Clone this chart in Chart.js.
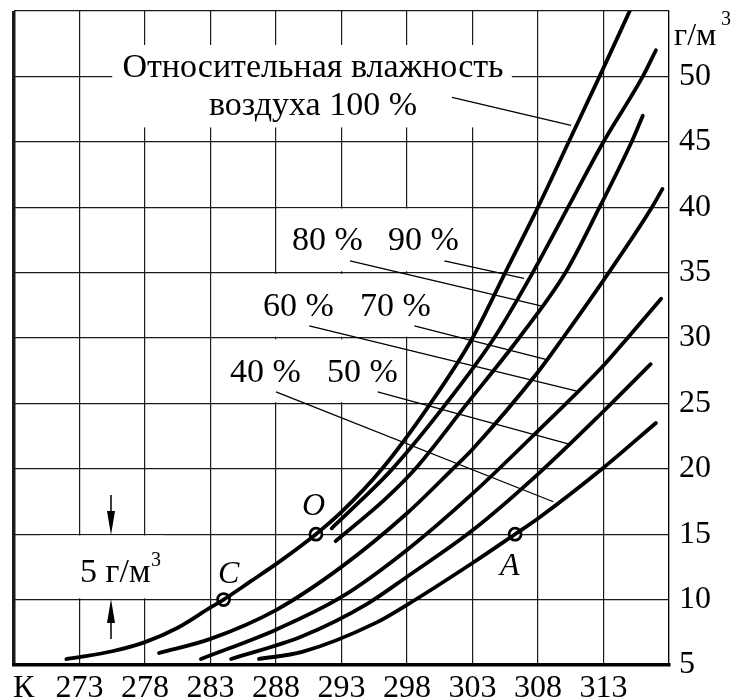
<!DOCTYPE html>
<html>
<head>
<meta charset="utf-8">
<script src="https://cdn.jsdelivr.net/npm/chart.js@4.4.1/dist/chart.umd.min.js"></script>
<style>
  html, body { margin: 0; padding: 0; background: #fff; }
  #wrap { width: 737px; height: 700px; }
</style>
</head>
<body>
<div id="wrap"><canvas id="humidityChart" width="737" height="700"></canvas></div>
<script>
// Axis ticks (temperature in K, absolute humidity in g/m3)
const xTicks = [268, 273, 278, 283, 288, 293, 298, 303, 308, 313, 318];
const yTicks = [5, 10, 15, 20, 25, 30, 35, 40, 45, 50, 55];

// Curves: temperature / humidity pairs
const rh100T = [272, 273, 275.5, 278, 280.5, 283, 284, 286, 288.4, 291.05, 293, 296.1, 299.8, 303, 305.5, 308, 310.35, 312.7, 315];
const rh100V = [5.45, 5.6, 6.05, 6.75, 7.85, 9.4, 10, 11.35, 13, 15, 16.7, 20, 25, 30, 35, 40, 45, 50, 55];

const rh90T = [292.25, 294.5, 296.8, 301, 304.65, 307.6, 310.3, 313, 316, 317];
const rh90V = [15.45, 17.6, 19.9, 25, 30, 35, 40, 45, 50, 52];

const rh80T = [292.55, 296.25, 298.55, 302.6, 306.55, 310.1, 312.7, 315.15, 316];
const rh80V = [14.47, 17.6, 19.9, 25, 30, 35, 40, 45, 47];

const rh70T = [279.07, 283, 288, 293, 298, 301.4, 303, 308, 309.9, 313.4, 316.7, 317.5];
const rh70V = [5.92, 7.0, 9.2, 12.5, 16.6, 19.9, 21.5, 27.4, 30, 35, 40, 41.4];

const rh60T = [282.27, 288, 293, 298, 303, 308, 313, 315, 317.4];
const rh60V = [5.46, 7.7, 10.2, 13.8, 18.1, 22.9, 27.9, 30.2, 33];

const rh50T = [284.57, 290, 295, 298, 303, 308, 313, 316.6];
const rh50V = [5.46, 7.2, 9.7, 11.75, 15.3, 19.6, 24.4, 28];

const rh40T = [286.7, 290, 295.57, 298, 303, 306.25, 308, 312.9, 317];
const rh40V = [5.46, 6.0, 8.2, 9.6, 12.8, 15, 16.2, 20, 23.5];

// Marked states
const pointNames = ['C', 'O', 'A'];
const pointT = [284, 291.05, 306.25];
const pointV = [10, 15, 15];

// Leader lines from labels to curves: [T1, V1, T2, V2]
const leaders = [
    [301.44, 48.39, 310.52, 46.25], // 100 %
    [300.85, 35.89, 306.93, 34.56], // 90 %
    [293.65, 35.89, 308.31, 32.43], // 80 %
    [298.56, 30.92, 308.66, 28.35], // 70 %
    [290.54, 30.92, 311.21, 25.88], // 60 %
    [295.76, 25.88, 310.44, 21.86], // 50 %
    [288.0, 25.88, 309.17, 17.48]   // 40 %
];

// Areas where the grid is blanked behind the labels: [T1, V1, T2, V2]
const blankAreas = [
    [275.5, 52.4, 306.0, 46.1],
    [288.1, 39.9, 302.9, 35.1],
    [283.1, 34.9, 302.9, 30.1],
    [283.1, 29.9, 297.9, 25.1],
    [270.0, 14.9, 279.5, 10.1]
];

const FONT = '"Liberation Serif", "Times New Roman", serif';

function toPoints(ts, vs) {
    return ts.map((t, i) => ({ x: t, y: vs[i] }));
}

function curve(ts, vs) {
    return {
        type: 'line',
        data: toPoints(ts, vs),
        borderColor: '#000',
        borderWidth: 3.8,
        borderCapStyle: 'round',
        pointRadius: 0,
        cubicInterpolationMode: 'monotone',
        fill: false
    };
}

const decorPlugin = {
    id: 'decor',
    beforeDatasetsDraw(chart) {
        const ctx = chart.ctx;
        const xs = chart.scales.x, ys = chart.scales.y;
        ctx.save();
        ctx.fillStyle = '#fff';
        blankAreas.forEach(b => {
            const x1 = xs.getPixelForValue(b[0]), y1 = ys.getPixelForValue(b[1]);
            const x2 = xs.getPixelForValue(b[2]), y2 = ys.getPixelForValue(b[3]);
            ctx.fillRect(x1, y1, x2 - x1, y2 - y1);
        });
        ctx.strokeStyle = '#000';
        ctx.lineWidth = 1.3;
        leaders.forEach(l => {
            ctx.beginPath();
            ctx.moveTo(xs.getPixelForValue(l[0]), ys.getPixelForValue(l[1]));
            ctx.lineTo(xs.getPixelForValue(l[2]), ys.getPixelForValue(l[3]));
            ctx.stroke();
        });
        ctx.restore();
    },
    afterDraw(chart) {
        const ctx = chart.ctx;
        ctx.save();
        ctx.fillStyle = '#000';
        ctx.textBaseline = 'alphabetic';

        ctx.font = '34px ' + FONT;
        ctx.textAlign = 'center';
        ctx.fillText('Относительная влажность', 313, 77);
        ctx.fillText('воздуха 100 %', 313, 115);

        ctx.textAlign = 'left';
        ctx.fillText('80 %', 292, 250);
        ctx.fillText('90 %', 388, 250);
        ctx.fillText('60 %', 263, 316);
        ctx.fillText('70 %', 360, 316);
        ctx.fillText('40 %', 230, 382);
        ctx.fillText('50 %', 327, 382);
        ctx.fillText('5 г/м', 80, 582);
        ctx.font = '32px ' + FONT;
        ctx.fillText('К', 13, 697);
        ctx.fillText('г/м', 674, 45);
        ctx.font = '20px ' + FONT;
        ctx.fillText('3', 721, 25);
        ctx.fillText('3', 151, 566);

        // point names
        ctx.font = 'italic 32px ' + FONT;
        const namePos = [[218, 583], [302, 515], [500, 575]];
        pointNames.forEach((n, i) => ctx.fillText(n, namePos[i][0], namePos[i][1]));

        // 5 g/m3 dimension arrows
        ctx.strokeStyle = '#000';
        ctx.lineWidth = 1.5;
        ctx.beginPath();
        ctx.moveTo(111, 495); ctx.lineTo(111, 515);
        ctx.moveTo(111, 620); ctx.lineTo(111, 639);
        ctx.stroke();
        ctx.beginPath();
        ctx.moveTo(107, 511); ctx.lineTo(115, 511); ctx.lineTo(111, 535); ctx.closePath();
        ctx.moveTo(107, 623); ctx.lineTo(115, 623); ctx.lineTo(111, 599); ctx.closePath();
        ctx.fill();
        ctx.restore();
    }
};

const datasets = [
    curve(rh100T, rh100V),
    curve(rh90T, rh90V),
    curve(rh80T, rh80V),
    curve(rh70T, rh70V),
    curve(rh60T, rh60V),
    curve(rh50T, rh50V),
    curve(rh40T, rh40V),
    {
        type: 'scatter',
        data: toPoints(pointT, pointV),
        pointRadius: 6,
        pointBackgroundColor: '#fff',
        pointBorderColor: '#000',
        pointBorderWidth: 2.8
    }
];

new Chart(document.getElementById('humidityChart'), {
    type: 'line',
    data: { datasets: datasets },
    options: {
        responsive: false,
        animation: false,
        layout: { padding: { left: 14, top: 11, right: 0, bottom: 0 } },
        plugins: {
            legend: { display: false },
            tooltip: { enabled: false }
        },
        scales: {
            x: {
                type: 'linear',
                position: 'bottom',
                min: 268,
                max: 318,
                afterBuildTicks: s => { s.ticks = xTicks.map(v => ({ value: v })); },
                afterFit: s => { s.height = 35; s.paddingLeft = 0; s.paddingRight = 0; },
                ticks: {
                    autoSkip: false,
                    maxRotation: 0,
                    padding: 4,
                    color: '#000',
                    font: { family: FONT, size: 32 },
                    callback: v => (v === 268 || v === 318) ? '' : String(v)
                },
                grid: {
                    drawTicks: false,
                    color: '#1a1a1a',
                    lineWidth: c => (c.tick && c.tick.value === 268) ? 3.5 : 1.2
                },
                border: { color: '#000', width: 3.5 }
            },
            y: {
                type: 'linear',
                position: 'right',
                min: 5,
                max: 55,
                afterBuildTicks: s => { s.ticks = yTicks.map(v => ({ value: v })); },
                afterFit: s => { s.width = 68; s.paddingTop = 0; s.paddingBottom = 0; },
                ticks: {
                    padding: 10,
                    color: '#000',
                    font: { family: FONT, size: 32 },
                    callback: v => v === 55 ? '' : String(v)
                },
                grid: {
                    drawTicks: false,
                    color: '#1a1a1a',
                    lineWidth: c => (c.tick && c.tick.value === 5) ? 0 : 1.2
                },
                border: { color: '#000', width: 1.2 }
            }
        }
    },
    plugins: [decorPlugin]
});
</script>
</body>
</html>
